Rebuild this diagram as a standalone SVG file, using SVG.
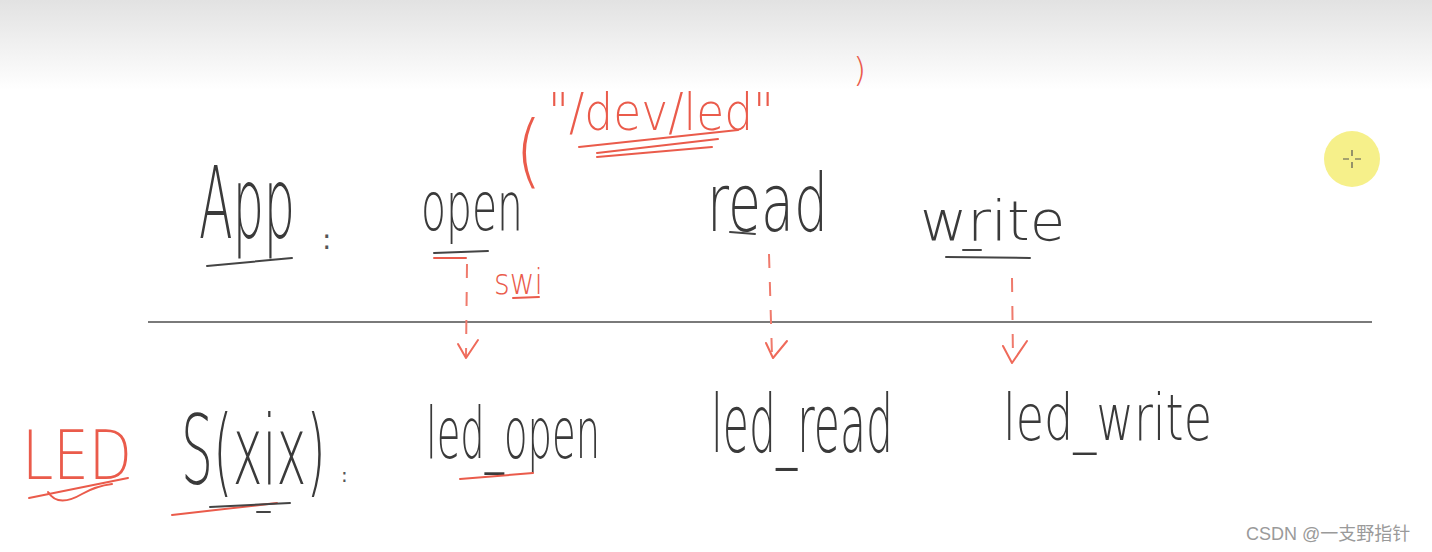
<svg xmlns="http://www.w3.org/2000/svg" width="1432" height="552" viewBox="0 0 1432 552">
<defs>
<linearGradient id="top" x1="0" y1="0" x2="0" y2="1">
<stop offset="0" stop-color="#e2e2e2"/>
<stop offset="1" stop-color="#ffffff"/>
</linearGradient>
<style>
.k{font-family:"DejaVu Sans","Open Sans",sans-serif;font-weight:200;fill:#3a3a3a}
.r{font-family:"DejaVu Sans","Open Sans",sans-serif;font-weight:200;fill:#ea5b4b}
.c{font-family:"DejaVu Sans","Open Sans",sans-serif;font-weight:400;fill:#555}
.ul{fill:none;stroke:#444;stroke-width:2;stroke-linecap:round}
.ur{fill:none;stroke:#ea5b4b;stroke-width:2;stroke-linecap:round}
.dash{fill:none;stroke:#ef7a6c;stroke-width:2;stroke-dasharray:14 14}
.head{fill:none;stroke:#ef6a5a;stroke-width:2;stroke-linecap:round;stroke-linejoin:round}
</style>
</defs>
<rect width="1432" height="552" fill="#ffffff"/>
<rect width="1432" height="90" fill="url(#top)"/>
<g id="cursor">
<circle cx="1352" cy="159" r="28" fill="#f6f08a"/>
<path d="M1352 150v6M1352 162v6M1343 159h6M1355 159h6" stroke="#555" stroke-width="1.2"/>
</g>
<line id="divider" x1="148" y1="322" x2="1372" y2="322" stroke="#7a7a7a" stroke-width="2"/>
<g id="app">
<text class="k" transform="translate(199,238) scale(0.49,1)" font-size="100" textLength="196" lengthAdjust="spacingAndGlyphs">App</text>
<path class="ul" d="M207 266 L292 258"/>
<text class="c" x="322" y="249" font-size="28">:</text>
</g>
<g id="open">
<text class="k" transform="translate(421,230) scale(0.6,1)" font-size="68" textLength="170" lengthAdjust="spacingAndGlyphs">open</text>
<path class="ul" d="M434 253 L488 251"/>
<path class="ur" d="M434 258 L466 258"/>
</g>
<g id="devled">
<text class="r" transform="translate(515,178) scale(0.87,1)" font-size="80" textLength="31" lengthAdjust="spacingAndGlyphs">(</text>
<text class="r" transform="translate(548,130) scale(0.876,1)" font-size="52" textLength="258" lengthAdjust="spacingAndGlyphs">"/dev/led"</text>
<path class="ur" d="M579 147 L738 130 M597 153 L718 139 M597 157 L712 147"/>
<text class="r" x="853" y="82" font-size="34">)</text>
</g>
<g id="read">
<text class="k" transform="translate(707,231) scale(0.665,1)" font-size="80" textLength="182" lengthAdjust="spacingAndGlyphs">read</text>
<path class="ul" d="M730 232 L755 234"/>
</g>
<g id="write">
<text class="k" transform="translate(920,240) scale(1.03,1)" font-size="56" textLength="141" lengthAdjust="spacingAndGlyphs">write</text>
<path class="ul" d="M946 257 L1030 258 M963 250 L981 250"/>
</g>
<g id="swi">
<text class="r" transform="translate(494,294) scale(0.845,1)" font-size="36" textLength="58" lengthAdjust="spacingAndGlyphs">swi</text>
<path class="ur" d="M513 298 L539 297"/>
</g>
<g id="connectors">
<path class="dash" d="M467 264 L466 356"/>
<path class="head" d="M458 344 L466 358 L478 340"/>
<path class="dash" d="M769 254 L772 356"/>
<path class="head" d="M766 343 L773 358 L787 341"/>
<path class="dash" d="M1012 278 L1013 360"/>
<path class="head" d="M1003 346 L1012 363 L1027 341"/>
</g>
<g id="led">
<text class="r" transform="translate(22,479) scale(0.827,1)" font-size="68" textLength="133" lengthAdjust="spacingAndGlyphs">LED</text>
<path class="ur" d="M29 498 L128 478 M48 492 Q58 508 82 494 Q96 486 112 484"/>
</g>
<g id="sxix">
<text class="k" transform="translate(181,484) scale(0.525,1)" font-size="96" textLength="276" lengthAdjust="spacingAndGlyphs">S(xix)</text>
<text class="c" x="341" y="482" font-size="20">:</text>
<path class="ur" d="M172 515 L277 503"/>
<path class="ul" d="M210 507 L290 503 M257 512 L270 512"/>
</g>
<g id="led_open">
<text class="k" transform="translate(426,458) scale(0.534,1)" font-size="72" textLength="326" lengthAdjust="spacingAndGlyphs">led_open</text>
<path class="ur" d="M460 479 L533 473"/>
</g>
<g id="led_read">
<text class="k" transform="translate(711,452) scale(0.529,1)" font-size="80" textLength="344" lengthAdjust="spacingAndGlyphs">led_read</text>
</g>
<g id="led_write">
<text class="k" transform="translate(1003,440) scale(0.718,1)" font-size="64" textLength="291" lengthAdjust="spacingAndGlyphs">led_write</text>
</g>
<text id="watermark" x="1246" y="540" font-family="'Liberation Sans','Noto Sans CJK SC',sans-serif" font-size="18" fill="#9a9a9a">CSDN @一支野指针</text>
</svg>
